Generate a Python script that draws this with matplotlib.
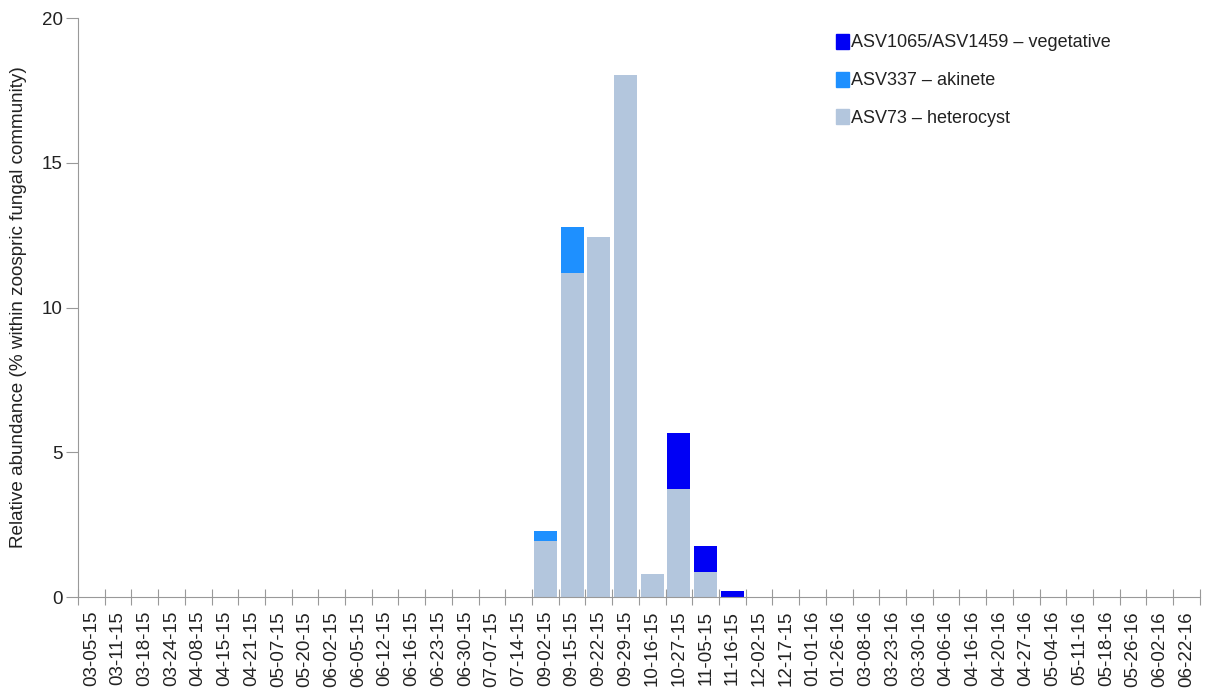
import numpy as np
import matplotlib.pyplot as plt
from matplotlib.patches import Patch

plt.rcParams['font.family'] = ['Liberation Sans', 'DejaVu Sans']

dates = ['03-05-15', '03-11-15', '03-18-15', '03-24-15', '04-08-15', '04-15-15',
         '04-21-15', '05-07-15', '05-20-15', '06-02-15', '06-05-15', '06-12-15',
         '06-16-15', '06-23-15', '06-30-15', '07-07-15', '07-14-15', '09-02-15',
         '09-15-15', '09-22-15', '09-29-15', '10-16-15', '10-27-15', '11-05-15',
         '11-16-15', '12-02-15', '12-17-15', '01-01-16', '01-26-16', '03-08-16',
         '03-23-16', '03-30-16', '04-06-16', '04-16-16', '04-20-16', '04-27-16',
         '05-04-16', '05-11-16', '05-18-16', '05-26-16', '06-02-16', '06-22-16']

# non-zero values only, keyed by date
heterocyst_vals = {'09-02-15': 1.92, '09-15-15': 11.18, '09-22-15': 12.43,
                   '09-29-15': 18.04, '10-16-15': 0.79, '10-27-15': 3.74,
                   '11-05-15': 0.86}
akinete_vals = {'09-02-15': 0.36, '09-15-15': 1.59}
vegetative_vals = {'10-27-15': 1.94, '11-05-15': 0.91, '11-16-15': 0.21}

heterocyst = np.array([heterocyst_vals.get(d, 0) for d in dates])
akinete = np.array([akinete_vals.get(d, 0) for d in dates])
vegetative = np.array([vegetative_vals.get(d, 0) for d in dates])

c_veg = '#0000F5'
c_aki = '#1E90FF'
c_het = '#B3C6DD'

fig = plt.figure(figsize=(12.07, 6.93), dpi=100)
ax = fig.add_axes([0.0646, 0.1385, 0.9294, 0.8355])

x = np.arange(len(dates)) + 0.5
w = 0.86
ax.bar(x, heterocyst, w, color=c_het, linewidth=0)
ax.bar(x, akinete, w, bottom=heterocyst, color=c_aki, linewidth=0)
ax.bar(x, vegetative, w, bottom=heterocyst + akinete, color=c_veg, linewidth=0)

ax.set_xlim(0, len(dates))
ax.set_ylim(0, 20)
ax.set_yticks([0, 5, 10, 15, 20])
ax.set_xticks(np.arange(len(dates) + 1), minor=False)
ax.set_xticklabels([])
ax.set_xticks(x, minor=True)
ax.set_xticklabels(dates, minor=True, rotation=90, fontsize=13.5, color='#222222')
ax.tick_params(axis='x', which='major', direction='inout', length=12, color='#999999')
ax.tick_params(axis='x', which='minor', length=0, pad=10)
ax.tick_params(axis='y', direction='out', length=9, color='#999999',
               labelsize=13.5, labelcolor='#222222', pad=2)

for s in ['top', 'right']:
    ax.spines[s].set_visible(False)
for s in ['left', 'bottom']:
    ax.spines[s].set_color('#999999')

ax.set_ylabel('Relative abundance (% within zoospric fungal community)',
              fontsize=13.6, color='#222222')
ax.yaxis.set_label_coords(-0.045, 0.5)

handles = [Patch(color=c_veg), Patch(color=c_aki), Patch(color=c_het)]
labels = ['ASV1065/ASV1459 \u2013 vegetative', 'ASV337 \u2013 akinete',
          'ASV73 \u2013 heterocyst']
fig.legend(handles, labels, loc='upper left', bbox_to_anchor=(0.6795, 0.975),
           frameon=False, fontsize=13, handlelength=0.7, handleheight=0.9,
           handletextpad=0.1, labelspacing=1.12, labelcolor='#222222')

fig.savefig('out.png', dpi=100)
